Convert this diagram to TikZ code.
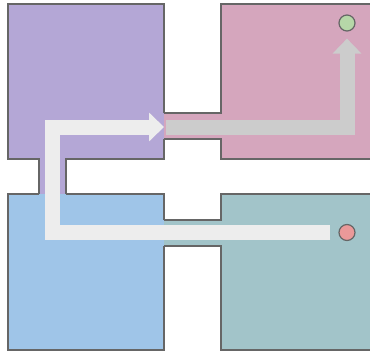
\documentclass[tikz,border=0pt]{standalone}
\usetikzlibrary{arrows.meta}
\definecolor{roompurple}{HTML}{B4A7D6}
\definecolor{roompink}{HTML}{D5A6BD}
\definecolor{roomblue}{HTML}{9FC5E8}
\definecolor{roomteal}{HTML}{A2C4C9}
\definecolor{wallgray}{HTML}{666666}
\definecolor{goalgreen}{HTML}{B6D7A8}
\definecolor{startred}{HTML}{EA9999}
\definecolor{pathwhite}{HTML}{EDEDED}
\definecolor{pathgray}{HTML}{CCCCCC}
\begin{document}
\begin{tikzpicture}[x=1pt,y=-1pt,
    wall/.style={draw=wallgray,line width=1.2pt},
    route/.style={line width=15pt,line join=miter,-{Triangle[length=15pt,width=28pt]}},
    dot/.style={circle,draw=wallgray,line width=1.2pt,minimum size=16pt,inner sep=0pt}]
                \useasboundingbox (0,0) rectangle (370,351);
                % rooms with their corridors
                \fill[roompurple] (8,4) -- (164,4) -- (164,159) -- (66,159) -- (66,194) -- (39,194) -- (39,159) -- (8,159) -- cycle;
                \fill[roompink] (221,4) -- (375,4) -- (375,159) -- (221,159) -- (221,139) -- (164,139) -- (164,113) -- (221,113) -- cycle;
                \fill[roomblue] (8,194) -- (164,194) -- (164,350) -- (8,350) -- cycle;
                \fill[roomteal] (221,194) -- (375,194) -- (375,350) -- (221,350) -- (221,246) -- (164,246) -- (164,220) -- (221,220) -- cycle;
                % walls
                \draw[wall] (164,113) -- (164,4) -- (8,4) -- (8,159) -- (39,159) -- (39,194);
                \draw[wall] (66,194) -- (66,159) -- (164,159) -- (164,139);
                \draw[wall] (375,4) -- (221,4) -- (221,113) -- (164,113);
                \draw[wall] (164,139) -- (221,139) -- (221,159) -- (375,159);
                \draw[wall] (39,194) -- (8,194) -- (8,350) -- (164,350) -- (164,246);
                \draw[wall] (164,220) -- (164,194) -- (66,194);
                \draw[wall] (164,220) -- (221,220) -- (221,194) -- (375,194);
                \draw[wall] (164,246) -- (221,246) -- (221,350) -- (375,350);
                
                \node [dot,fill=startred] (start) at (347,232.5) {};
                \node [dot,fill=goalgreen] (goal) at (347,23) {};
                \coordinate (door) at (164,127);
                % route
                \draw[route,pathwhite] ([xshift=-8pt]start.west) -- (52.5,232.5) -- (52.5,127) -- (door);
                \draw[route,pathgray] ([xshift=2pt]door) -| ([yshift=-7pt]goal.south);
            \end{tikzpicture}
\end{document}
